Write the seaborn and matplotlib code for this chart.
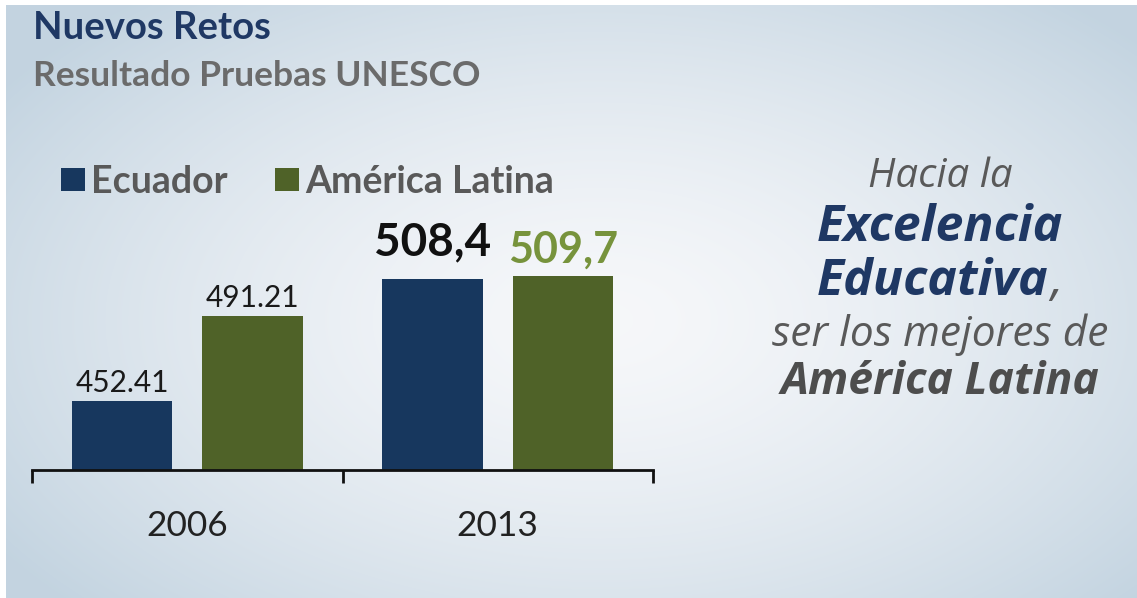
import numpy as np
import pandas as pd
import matplotlib
matplotlib.use("Agg")
import matplotlib.pyplot as plt
import seaborn as sns

# ---------------- data ----------------
years = ["2006", "2013"]
regions = ["Ecuador", "América Latina"]
ecuador = [452.41, 508.4]
america_latina = [491.21, 509.7]
value_labels_ecuador = ["452.41", "508,4"]
value_labels_al = ["491.21", "509,7"]

title = "Nuevos Retos"
subtitle = "Resultado Pruebas UNESCO"
side_lines = ["Hacia la", "Excelencia", "Educativa", "ser los mejores de", "América Latina"]

# ---------------- styles ----------------
NAVY = "#17375e"
GREEN = "#4f6228"
GREEN_LABEL = "#77933c"
GRAY = "#595959"

sns.set_theme(style="white")
plt.rcParams["font.family"] = ["Lato", "DejaVu Sans"]

W, H = 1137, 598
fig = plt.figure(figsize=(W / 100, H / 100), dpi=100)

# background gradient
bg = fig.add_axes([0, 0, 1, 1], zorder=-10)
yy, xx = np.mgrid[0:H, 0:W]
t = np.sqrt(((xx - 600) / 720.0) ** 2 + ((yy - 320) / 420.0) ** 2)
t = np.clip(t, 0, 1) ** 1.5
c0 = np.array([0.965, 0.97, 0.98])
c1 = np.array([0.765, 0.83, 0.88])
img = c0[None, None, :] * (1 - t[..., None]) + c1[None, None, :] * t[..., None]
img[:5, :, :] = 1.0
img[:, :6, :] = 1.0
bg.imshow(img, aspect="auto", extent=[0, 1, 0, 1], origin="upper")
bg.set_axis_off()

# main axes
ax_left, ax_right = 32, 653
ax_bottom, ax_top = 470, 200
ax = fig.add_axes([ax_left / W, 1 - ax_bottom / H, (ax_right - ax_left) / W, (ax_bottom - ax_top) / H])
ax.set_facecolor("none")

df = pd.DataFrame({
    "year": years * 2,
    "region": [regions[0]] * 2 + [regions[1]] * 2,
    "score": ecuador + america_latina,
})

sns.barplot(data=df, x="year", y="score", hue="region", hue_order=regions,
            palette=[NAVY, GREEN], saturation=1, width=0.84, gap=0.23,
            linewidth=0, ax=ax)

px_per_unit = 2.19
y0 = 421.0
ax.set_ylim(y0, y0 + (ax_bottom - ax_top) / px_per_unit)
ax.set_xlim(-0.5, 1.5)

for s in ["top", "left", "right"]:
    ax.spines[s].set_visible(False)
ax.spines["bottom"].set_color("#111111")
ax.spines["bottom"].set_linewidth(2.0)
ax.spines["bottom"].set_zorder(5)
ax.set_yticks([])
ax.set_xlabel("")
ax.set_ylabel("")
ax.set_xticks([-0.5, 0.5, 1.5], minor=True)
ax.tick_params(axis="x", which="minor", length=9, width=2.0, color="#111111", direction="out", bottom=True)
ax.tick_params(axis="x", which="major", length=0, pad=29, labelsize=25.5, labelcolor="#222222", bottom=True)

# value labels
label_styles = {
    ("Ecuador", 0): dict(size=21.5, weight="normal", color="#1a1a1a", off=6.5),
    ("Ecuador", 1): dict(size=33, weight="bold", color="#111111", off=16.5),
    ("América Latina", 0): dict(size=21.5, weight="normal", color="#1a1a1a", off=7),
    ("América Latina", 1): dict(size=31, weight="bold", color=GREEN_LABEL, off=9.5),
}
label_text = {"Ecuador": value_labels_ecuador, "América Latina": value_labels_al}
for hi, cont in enumerate(ax.containers):
    reg = regions[hi]
    for ci, bar in enumerate(cont):
        st = label_styles[(reg, ci)]
        ax.annotate(label_text[reg][ci],
                    xy=(bar.get_x() + bar.get_width() / 2, bar.get_height()),
                    xytext=(0, st["off"]), textcoords="offset points",
                    ha="center", va="baseline", fontsize=st["size"],
                    fontweight=st["weight"], color=st["color"], annotation_clip=False)

# legend
sns.move_legend(ax, loc="center left", bbox_to_anchor=(61 / W, 1 - 182 / H),
                bbox_transform=fig.transFigure, ncol=2, frameon=False,
                title=None, borderpad=0, borderaxespad=0,
                handlelength=0.63, handleheight=0.58, handletextpad=0.18,
                columnspacing=1.25,
                prop={"family": ["Lato", "DejaVu Sans"], "weight": "bold", "size": 27})
for txt in ax.get_legend().get_texts():
    txt.set_color(GRAY)

# titles
fig.text(33 / W, 1 - 39 / H, title, ha="left", va="baseline", fontsize=27.5,
         fontweight="bold", color="#1f3864")
fig.text(33 / W, 1 - 86 / H, subtitle, ha="left", va="baseline", fontsize=25.5,
         fontweight="bold", color="#6b6b6b")

# side text
cx = 940 / W
fam = ["Open Sans", "DejaVu Sans"]
fig.text(cx, 1 - 177 / H, side_lines[0], ha="center", va="center", fontsize=29,
         style="italic", color=GRAY, family=fam)
fig.text(cx, 1 - 228 / H, side_lines[1], ha="center", va="center", fontsize=36,
         style="italic", fontweight="bold", color="#1f3864", family=fam)
edu = fig.text(933 / W, 1 - 282 / H, side_lines[2], ha="center", va="center", fontsize=36,
               style="italic", fontweight="bold", color="#1f3864", family=fam)
fig.texts.append(matplotlib.text.Annotation(
    ",", xy=(1, 0), xycoords=edu, xytext=(1, 0), textcoords="offset points",
    ha="left", va="bottom", fontsize=36, style="italic", color=GRAY, family=fam))
fig.texts[-1].set_figure(fig)
fig.text(cx, 1 - 335 / H, side_lines[3], ha="center", va="center", fontsize=30.5,
         style="italic", color=GRAY, family=fam)
fig.text(cx, 1 - 382 / H, side_lines[4], ha="center", va="center", fontsize=32,
         style="italic", fontweight="bold", color="#4d4d4d", family=fam)

fig.savefig("out.png", dpi=100)
